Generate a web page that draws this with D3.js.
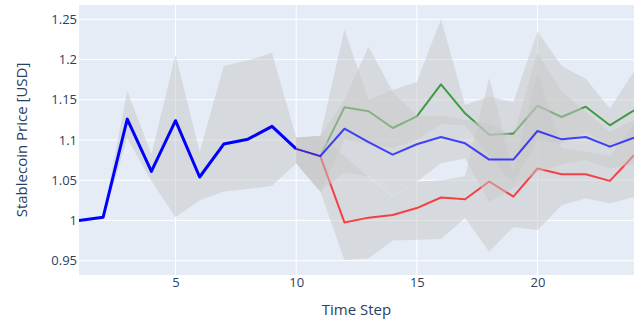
<!DOCTYPE html>
<html><head><meta charset="utf-8">
<script src="https://cdn.jsdelivr.net/npm/d3@7"></script>
<style>html,body{margin:0;padding:0;background:#fff}svg{display:block}</style>
</head><body>
<svg id="c" width="640" height="320"></svg>
<script>
// ---- data ----
const histSteps = [1,2,3,4,5,6,7,8,9,10];
const histMean  = [1.000,1.004,1.126,1.061,1.124,1.054,1.095,1.101,1.117,1.089];
const histUpper = [1.000,1.006,1.161,1.082,1.206,1.085,1.192,1.199,1.208,1.103];
const histLower = [1.000,1.002,1.102,1.049,1.004,1.025,1.036,1.039,1.043,1.071];

const scenSteps = [10,11,12,13,14,15,16,17,18,19,20,21,22,23,24];
const greenMean = [1.089,1.080,1.1406,1.1357,1.1149,1.1294,1.1692,1.1332,1.1066,1.1079,1.1426,1.1286,1.1414,1.1183,1.1369];
const greenUpper= [1.103,1.105,1.237,1.150,1.162,1.172,1.250,1.1435,1.154,1.147,1.235,1.192,1.176,1.139,1.185];
const greenLower= [1.071,1.036,1.100,1.095,1.090,1.100,1.120,1.118,1.080,1.046,1.100,1.095,1.110,1.090,1.100];

const blueMean  = [1.089,1.080,1.114,1.0975,1.0818,1.0947,1.1037,1.0959,1.0757,1.0757,1.1112,1.1008,1.1037,1.0917,1.1030];
const blueUpper = [1.103,1.105,1.150,1.216,1.160,1.130,1.130,1.125,1.120,1.105,1.2085,1.160,1.135,1.110,1.125];
const blueLower = [1.071,1.036,1.060,1.055,1.030,1.048,1.071,1.077,1.023,1.040,1.060,1.070,1.075,1.065,1.070];

const redMean   = [1.089,1.080,0.9975,1.0035,1.0067,1.0154,1.0285,1.0264,1.0484,1.0297,1.0646,1.0575,1.0575,1.0492,1.0811];
const redUpper  = [1.103,1.105,1.080,1.054,1.0295,1.048,1.050,1.055,1.177,1.060,1.185,1.090,1.085,1.080,1.120];
const redLower  = [1.071,1.036,0.951,0.953,0.975,0.976,0.977,1.003,0.961,0.992,0.988,1.019,1.0275,1.021,1.0295];

const xTicks = [5,10,15,20];
const yTicks = [0.95,1,1.05,1.1,1.15,1.2,1.25];
const xTitle = "Time Step";
const yTitle = "Stablecoin Price [USD]";

// ---- layout ----
const W=640,H=320, m={l:79,r:6,t:5,b:45};
const svg=d3.select("#c");
const x=d3.scaleLinear().domain([1,24]).range([m.l,W-m.r]);
const y=d3.scaleLinear().domain([0.9322,1.2678]).range([H-m.b,m.t]);
const fontFam='"Open Sans", "Noto Sans", sans-serif';
const txtCol="#2a3f5f";

svg.append("rect").attr("x",m.l).attr("y",m.t).attr("width",W-m.l-m.r).attr("height",H-m.t-m.b).attr("fill","#e5ecf6");
svg.append("clipPath").attr("id","clip").append("rect").attr("x",m.l).attr("y",m.t).attr("width",W-m.l-m.r).attr("height",H-m.t-m.b);

// grid
const grid=svg.append("g");
grid.selectAll("line.gx").data(xTicks).join("line").attr("x1",d=>x(d)).attr("x2",d=>x(d)).attr("y1",m.t).attr("y2",H-m.b).attr("stroke","#fff").attr("stroke-width",1);
grid.selectAll("line.gy").data(yTicks).join("line").attr("x1",m.l).attr("x2",W-m.r).attr("y1",d=>y(d)).attr("y2",d=>y(d)).attr("stroke","#fff").attr("stroke-width",1);

// axes (text only)
const fmt=d3.format(".2~f");
const xAxis=d3.axisBottom(x).tickValues(xTicks).tickSize(0).tickPadding(3).tickFormat(d3.format("d"));
const gx=svg.append("g").attr("transform",`translate(0,${H-m.b})`).call(xAxis);
const yAxis=d3.axisLeft(y).tickValues(yTicks).tickSize(0).tickPadding(2).tickFormat(fmt);
const gy=svg.append("g").attr("transform",`translate(${m.l},0)`).call(yAxis);
[gx,gy].forEach(g=>{g.select(".domain").remove();g.selectAll("text").attr("fill",txtCol).style("font-family",fontFam).style("font-size","13px");});

svg.append("text").attr("x",(m.l+W-m.r)/2).attr("y",H-5).attr("text-anchor","middle").attr("fill",txtCol).style("font-family",fontFam).style("font-size","15px").text(xTitle);
svg.append("text").attr("transform",`translate(27,${(m.t+H-m.b)/2}) rotate(-90)`).attr("text-anchor","middle").attr("fill",txtCol).style("font-family",fontFam).style("font-size","15px").text(yTitle);

const plot=svg.append("g").attr("clip-path","url(#clip)");
const bandFill="rgba(200,200,200,0.5)";
function band(steps,lo,hi){
  const data=steps.map((s,i)=>({s,lo:lo[i],hi:hi[i]}));
  plot.append("path").datum(data).attr("fill",bandFill)
    .attr("d",d3.area().x(d=>x(d.s)).y0(d=>y(d.lo)).y1(d=>y(d.hi)));
}
function line(steps,vals,col,w,op){
  const data=steps.map((s,i)=>({s,v:vals[i]}));
  plot.append("path").datum(data).attr("fill","none").attr("stroke",col).attr("stroke-width",w).attr("stroke-opacity",op).attr("stroke-linejoin","round")
    .attr("d",d3.line().x(d=>x(d.s)).y(d=>y(d.v)));
}
band(histSteps,histLower,histUpper);
line(histSteps,histMean,"#0000ff",3,1);
band(scenSteps,greenLower,greenUpper);
line(scenSteps,greenMean,"#008000",2,0.7);
band(scenSteps,redLower,redUpper);
line(scenSteps,redMean,"#ff0000",2,0.7);
band(scenSteps,blueLower,blueUpper);
line(scenSteps,blueMean,"#0000ff",2,0.7);
</script>
</body></html>
